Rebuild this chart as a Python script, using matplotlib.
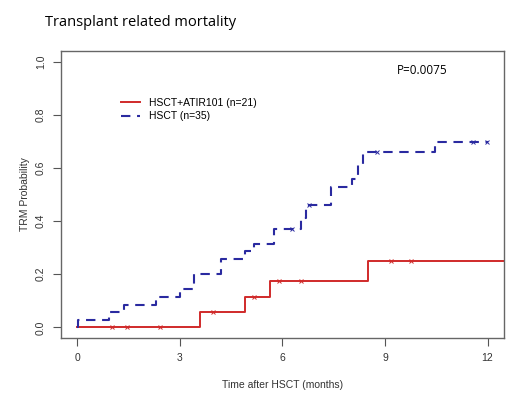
import matplotlib
matplotlib.use('Agg')
import matplotlib.pyplot as plt

# Kaplan-Meier style cumulative TRM
atir_times = [0, 3.59, 4.90, 5.62, 8.50, 12.5]
atir_trm = [0, 0.056, 0.114, 0.176, 0.25, 0.25]
atir_cens_t = [1.0, 1.46, 2.41, 3.98, 5.16, 5.89, 6.53, 9.16, 9.75]
atir_cens_y = [0, 0, 0, 0.056, 0.114, 0.176, 0.176, 0.25, 0.25]

hsct_times = [0, 0.02, 0.93, 1.37, 2.29, 3.0, 3.42, 4.20, 4.90, 5.18, 5.74,
              6.55, 6.70, 7.43, 8.04, 8.20, 8.35, 10.45, 12.0]
hsct_trm = [0, 0.029, 0.057, 0.086, 0.114, 0.143, 0.2, 0.257, 0.286, 0.314,
            0.371, 0.41, 0.462, 0.527, 0.560, 0.61, 0.659, 0.697, 0.697]
hsct_cens_t = [6.27, 6.79, 8.77, 11.57, 11.99]
hsct_cens_y = [0.371, 0.462, 0.659, 0.697, 0.697]

labels = ["HSCT+ATIR101 (n=21)", "HSCT (n=35)"]
x_ticks = [0, 3, 6, 9, 12]
y_ticks = [0.0, 0.2, 0.4, 0.6, 0.8, 1.0]

red = '#d02a2a'
blue = '#2a2aa0'
grey = '#333333'

plt.rcParams['font.family'] = ['Liberation Sans', 'DejaVu Sans']

fig = plt.figure(figsize=(5.2, 3.97), dpi=100)
ax = fig.add_axes([0.1173, 0.1486, 0.8519, 0.7229])

ax.step(atir_times, atir_trm, where='post', color=red, lw=1.4, label=labels[0])
ax.step(hsct_times, hsct_trm, where='post', color=blue, lw=1.5,
        linestyle=(0, (4.5, 3.2)), label=labels[1])
ax.plot(atir_cens_t, atir_cens_y, 'x', color=red, ms=3.5, mew=0.7)
ax.plot(hsct_cens_t, hsct_cens_y, 'x', color=blue, ms=3.5, mew=0.7)

ax.set_xlim(-0.48, 12.48)
ax.set_ylim(-0.04, 1.04)
ax.set_xticks(x_ticks)
ax.set_xticklabels([str(t) for t in x_ticks])
ax.set_yticks(y_ticks)
ax.set_yticklabels([f'{t:.1f}' for t in y_ticks], rotation=90, va='center')
ax.tick_params(length=6, width=0.8, color='#555555', labelsize=7.5,
               labelcolor=grey, pad=5)
for s in ax.spines.values():
    s.set_color('#666666')
    s.set_linewidth(1.0)

ax.set_xlabel("Time after HSCT (months)", fontsize=7.5, color=grey, labelpad=12)
ax.set_ylabel("TRM Probability", fontsize=7.5, color=grey, labelpad=4)

ax.legend(loc='upper left', bbox_to_anchor=(0.135, 0.837), frameon=False,
          fontsize=7.5, handlelength=1.85, labelspacing=0.35, handletextpad=0.85,
          borderaxespad=0, borderpad=0)

ax.text(0.758, 0.955, "P=0.0075", transform=ax.transAxes, fontsize=8.5,
        family=['Open Sans', 'DejaVu Sans'], va='top', ha='left')
fig.text(45 / 520, 1 - 22 / 397, "Transplant related mortality", fontsize=10.5,
         family=['Open Sans', 'DejaVu Sans'], va='center', ha='left')

fig.savefig('out.png', dpi=100)
